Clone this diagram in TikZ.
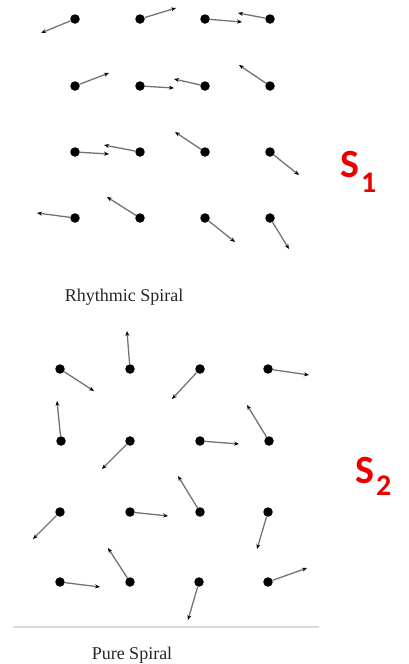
\documentclass[tikz,border=0pt]{standalone}
\usepackage{fontspec}
\setmainfont{Liberation Serif}
\newfontfamily\labfont{Carlito}
\usetikzlibrary{arrows.meta}
\definecolor{sred}{RGB}{235,0,0}
\tikzset{
  dot/.style={circle,fill=black,inner sep=0pt,minimum size=9.5pt},
  vec/.style={draw=black!55,line width=1.3pt,-{Stealth[length=5pt,width=4pt,black]}},
  caption/.style={font=\fontsize{18}{18}\selectfont,text=black!85,inner sep=0pt,anchor=base},
  slab/.style={font=\labfont\bfseries\fontsize{40}{40}\selectfont,text=sred,inner sep=0pt,anchor=base west},
  ssub/.style={font=\labfont\bfseries\fontsize{30}{30}\selectfont,text=sred,inner sep=0pt,anchor=base west}
}
\begin{document}
\begin{tikzpicture}[x=1pt,y=-1pt]
\useasboundingbox (0,0) rectangle (408,664);
% Rhythmic spiral
\foreach \n/\x/\y/\ex/\ey in {
  a1/75/19/41/33, a2/140/19/176/8, a3/205/19/242/22, a4/270/19/238/13,
  b1/75/86/109/73, b2/140/86/174/88, b3/205/86/174/79, b4/270/86/239/65,
  c1/75/152/109/154, c2/140/152/104/145, c3/205/152/175/132, c4/270/152/299/175,
  d1/75/218/37/213, d2/140/218/107/197, d3/205/218/235/242, d4/270/218/289/249}
{
  \node[dot] (\n) at (\x,\y) {};
  \coordinate (e\n) at (\ex,\ey);
  \draw[vec] (\n) -- (e\n);
}
\node[caption] (rs) at (124,301) {Rhythmic Spiral};
% Pure spiral
\foreach \n/\x/\y/\ex/\ey in {
  p1/60/369/94/391, p2/130/369/127/331, p3/200/369/172/399, p4/268/369/309/375,
  q1/61/441/57/401, q2/130/441/102/469, q3/200/441/239/444, q4/269/441/247/405,
  r1/60/512/33/539, r2/130/512/168/516, r3/200/512/178/476, r4/268/512/257/549,
  s1/60/582/100/587, s2/130/582/108/548, s3/199/582/188/620, s4/268/582/307/568}
{
  \node[dot] (\n) at (\x,\y) {};
  \coordinate (e\n) at (\ex,\ey);
  \draw[vec] (\n) -- (e\n);
}
\coordinate (l1) at (13,627);
\coordinate (l2) at (319,627);
\draw[black!15,line width=2.5pt] (l1) -- (l2);
\node[caption] (ps) at (132,659) {Pure Spiral};
% labels
\node[slab] (S1) at (340,177) {S};
\node[ssub] (S1s) at (361,192) {1};
\node[slab] (S2) at (355,483) {S};
\node[ssub] (S2s) at (376,495) {2};
\end{tikzpicture}
\end{document}
